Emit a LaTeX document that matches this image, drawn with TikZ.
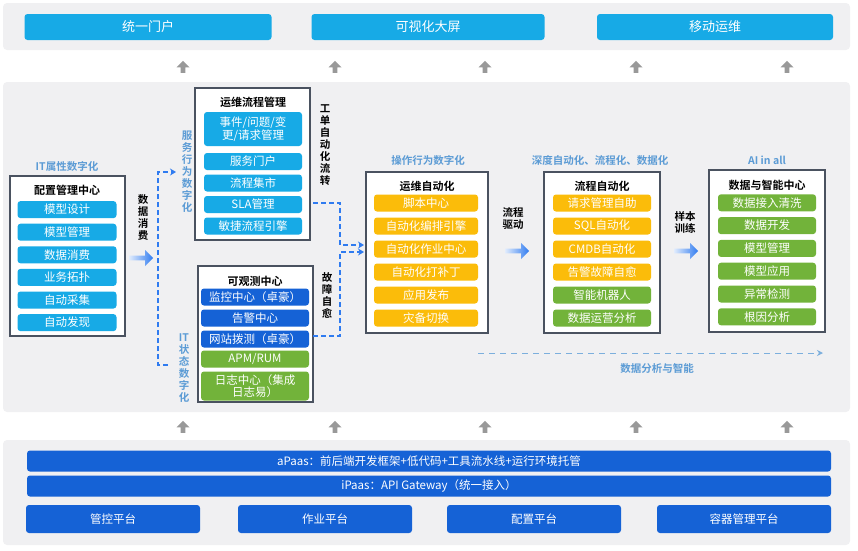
\documentclass[tikz,border=0pt]{standalone}
\usepackage{fontspec}
\setmainfont{Noto Sans CJK SC}[BoldFont={Noto Sans CJK SC Bold}]
\usetikzlibrary{positioning,arrows.meta,shapes.arrows}
\definecolor{cyanbox}{HTML}{17AAE6}
\definecolor{orangebox}{HTML}{FBBC0A}
\definecolor{greenbox}{HTML}{72B33A}
\definecolor{navybox}{HTML}{1562D6}
\definecolor{panelgray}{HTML}{F0F0F2}
\definecolor{framegray}{HTML}{4A5260}
\definecolor{tagblue}{HTML}{5B9BD5}
\definecolor{dashblue}{HTML}{2F7BF0}

\begin{document}
\begin{tikzpicture}[x=1pt,y=-1pt,
    panel/.style={fill=panelgray,draw=none,rounded corners=4pt},
    group/.style={draw=framegray,line width=1.2pt,fill=white},
    title/.style={font=\bfseries\fontsize{11}{12}\selectfont},
    item/.style={rounded corners=3pt,text=white,font=\fontsize{11.5}{12.5}\selectfont,
        minimum height=17pt,inner sep=1pt,align=center},
    tag/.style={text=tagblue,font=\bfseries\fontsize{10.5}{11}\selectfont},
    vtag/.style={font=\bfseries\fontsize{10.5}{12}\selectfont,align=center,text width=12pt},
    uparrow/.style={single arrow,fill=gray!80,minimum height=12pt,minimum width=13pt,
        single arrow head extend=2pt,shape border rotate=90,inner sep=1pt},
    bigarrow/.style={single arrow,left color=dashblue!15,right color=dashblue,draw=none,
        minimum height=24pt,minimum width=16pt,single arrow head extend=3pt,inner sep=1pt},
    flow/.style={dash pattern=on 5pt off 3pt,dashblue,line width=1.4pt,-{Stealth[length=6pt,width=7pt]}}]
\useasboundingbox (0,0) rectangle (858,550);

% top portal row
\fill[panel] (3,3) rectangle (850,50);
\node[item,fill=cyanbox,minimum width=247pt,minimum height=26pt,font=\fontsize{13}{14}\selectfont] (portal) at (148,27) {统一门户};
\node[item,fill=cyanbox,minimum width=233pt,minimum height=26pt,font=\fontsize{13}{14}\selectfont] (screen) at (428,27) {可视化大屏};
\node[item,fill=cyanbox,minimum width=236pt,minimum height=26pt,font=\fontsize{13}{14}\selectfont] (mobile) at (715,27) {移动运维};
\foreach \x in {183,335,485,636,787} {
    \node[uparrow] at (\x,68) {};
    \node[uparrow] at (\x,428) {};
}

% middle panel
\fill[panel] (3,82) rectangle (850,412);

% config center
\node[tag] (t_attr) at (67,166) {IT属性数字化};
\draw[group] (10,176) rectangle (125,336);
\node[title] (cmdb) at (67,190) {配置管理中心};
\foreach \t [count=\i] in {模型设计,模型管理,数据消费,业务拓扑,自动采集,自动发现}
    \node[item,fill=cyanbox,minimum width=99pt] (cm\i) at (67,187+\i*22.6) {\t};
\node[bigarrow] (a_use) at (140,258) {};
\node[vtag] (v_use) at (143,218) {数\\据\\消\\费};
\draw[flow] (168,365) -- (158,365) -- (158,172) -- (176,172);

% process management
\node[vtag,text=tagblue] (v_srv) at (187,172) {服\\务\\行\\为\\数\\字\\化};
\node[vtag,text=tagblue] (v_st) at (184,368) {IT\\状\\态\\数\\字\\化};
\draw[group] (195,88) rectangle (310,240);
\node[title] (itsm) at (253,102) {运维流程管理};
\node[item,fill=cyanbox,minimum width=98pt,minimum height=34pt] (pm1) at (253,129) {事件/问题/变\\更/请求管理};
\foreach \t [count=\i from 2] in {服务门户,流程集市,SLA管理,敏捷流程引擎}
    \node[item,fill=cyanbox,minimum width=98pt] (pm\i) at (253,161.5-22*2+\i*21.5+1) {\t};
\node[vtag] (v_tick) at (325,145) {工\\单\\自\\动\\化\\流\\转};

% observability
\draw[group] (198,266) rectangle (313,402);
\node[title] (obs) at (255,281) {可观测中心};
\node[item,fill=navybox,minimum width=108pt] (ob1) at (255,297) {监控中心（卓豪）};
\node[item,fill=navybox,minimum width=108pt] (ob2) at (255,318) {告警中心};
\node[item,fill=navybox,minimum width=108pt] (ob3) at (255,339) {网站拨测（卓豪）};
\node[item,fill=greenbox,minimum width=108pt] (ob4) at (255,359) {APM/RUM};
\node[item,fill=greenbox,minimum width=108pt,minimum height=29pt] (ob5) at (255,386) {日志中心（集成\\日志易）};
\node[vtag] (v_heal) at (327,295) {故\\障\\自\\愈};
\draw[flow] (313,203) -- (340,203) -- (340,245) -- (364,245);
\draw[flow] (313,336) -- (340,336) -- (340,252) -- (364,252);

% ops automation
\node[tag] (t_op) at (428,160) {操作行为数字化};
\draw[group] (366,172) rectangle (488,333);
\node[title] (ops) at (427,186) {运维自动化};
\foreach \t [count=\i] in {脚本中心,自动化编排引擎,自动化作业中心,自动化打补丁,应用发布,灾备切换}
    \node[item,fill=orangebox,minimum width=104pt] (oa\i) at (426,180+\i*23) {\t};
\node[font=\bfseries\fontsize{10.5}{12}\selectfont,align=center] (l_drive) at (513,218) {流程\\驱动};
\node[bigarrow] (a_drive) at (516,251) {};

% process automation
\node[tag] (t_deep) at (600,160) {深度自动化、流程化、数据化};
\draw[group] (544,172) rectangle (660,333);
\node[title] (pa) at (602,186) {流程自动化};
\foreach \t/\c [count=\i] in {请求管理自助/orangebox,SQL自动化/orangebox,CMDB自动化/orangebox,告警故障自愈/orangebox,智能机器人/greenbox,数据运营分析/greenbox}
    \node[item,fill=\c,minimum width=98pt] (pa\i) at (602,180+\i*23) {\t};
\node[font=\bfseries\fontsize{10.5}{12}\selectfont,align=center] (l_train) at (685,222) {样本\\训练};
\node[bigarrow] (a_train) at (685,251) {};

% data and intelligence
\node[tag] (t_ai) at (767,160) {AI in all};
\draw[group] (709,170) rectangle (825,332);
\node[title] (dic) at (767,185) {数据与智能中心};
\foreach \t [count=\i] in {数据接入清洗,数据开发,模型管理,模型应用,异常检测,根因分析}
    \node[item,fill=greenbox,minimum width=98pt] (di\i) at (767,180+\i*22.8) {\t};
\coordinate (d_from) at (478,353);
\coordinate (d_to) at (823,353);
\draw[tagblue!80,line width=1pt,dash pattern=on 6pt off 5pt,-{Stealth[length=6pt,width=6pt]}] (d_from) -- (d_to);
\node[tag] (t_ana) at (657,368) {数据分析与智能};

% platform layer
\fill[panel] (3,440) rectangle (850,545);
\node[item,fill=navybox,minimum width=804pt,minimum height=21pt] (apaas) at (429,461) {aPaas：前后端开发框架+低代码+工具流水线+运行环境托管};
\node[item,fill=navybox,minimum width=804pt,minimum height=21pt] (ipaas) at (429,486) {iPaas：API Gateway（统一接入）};
\foreach \t/\x [count=\i] in {管控平台/113,作业平台/325,配置平台/534,容器管理平台/744}
    \node[item,fill=navybox,minimum width=174pt,minimum height=28pt] (pf\i) at (\x,519) {\t};
\end{tikzpicture}
\end{document}
